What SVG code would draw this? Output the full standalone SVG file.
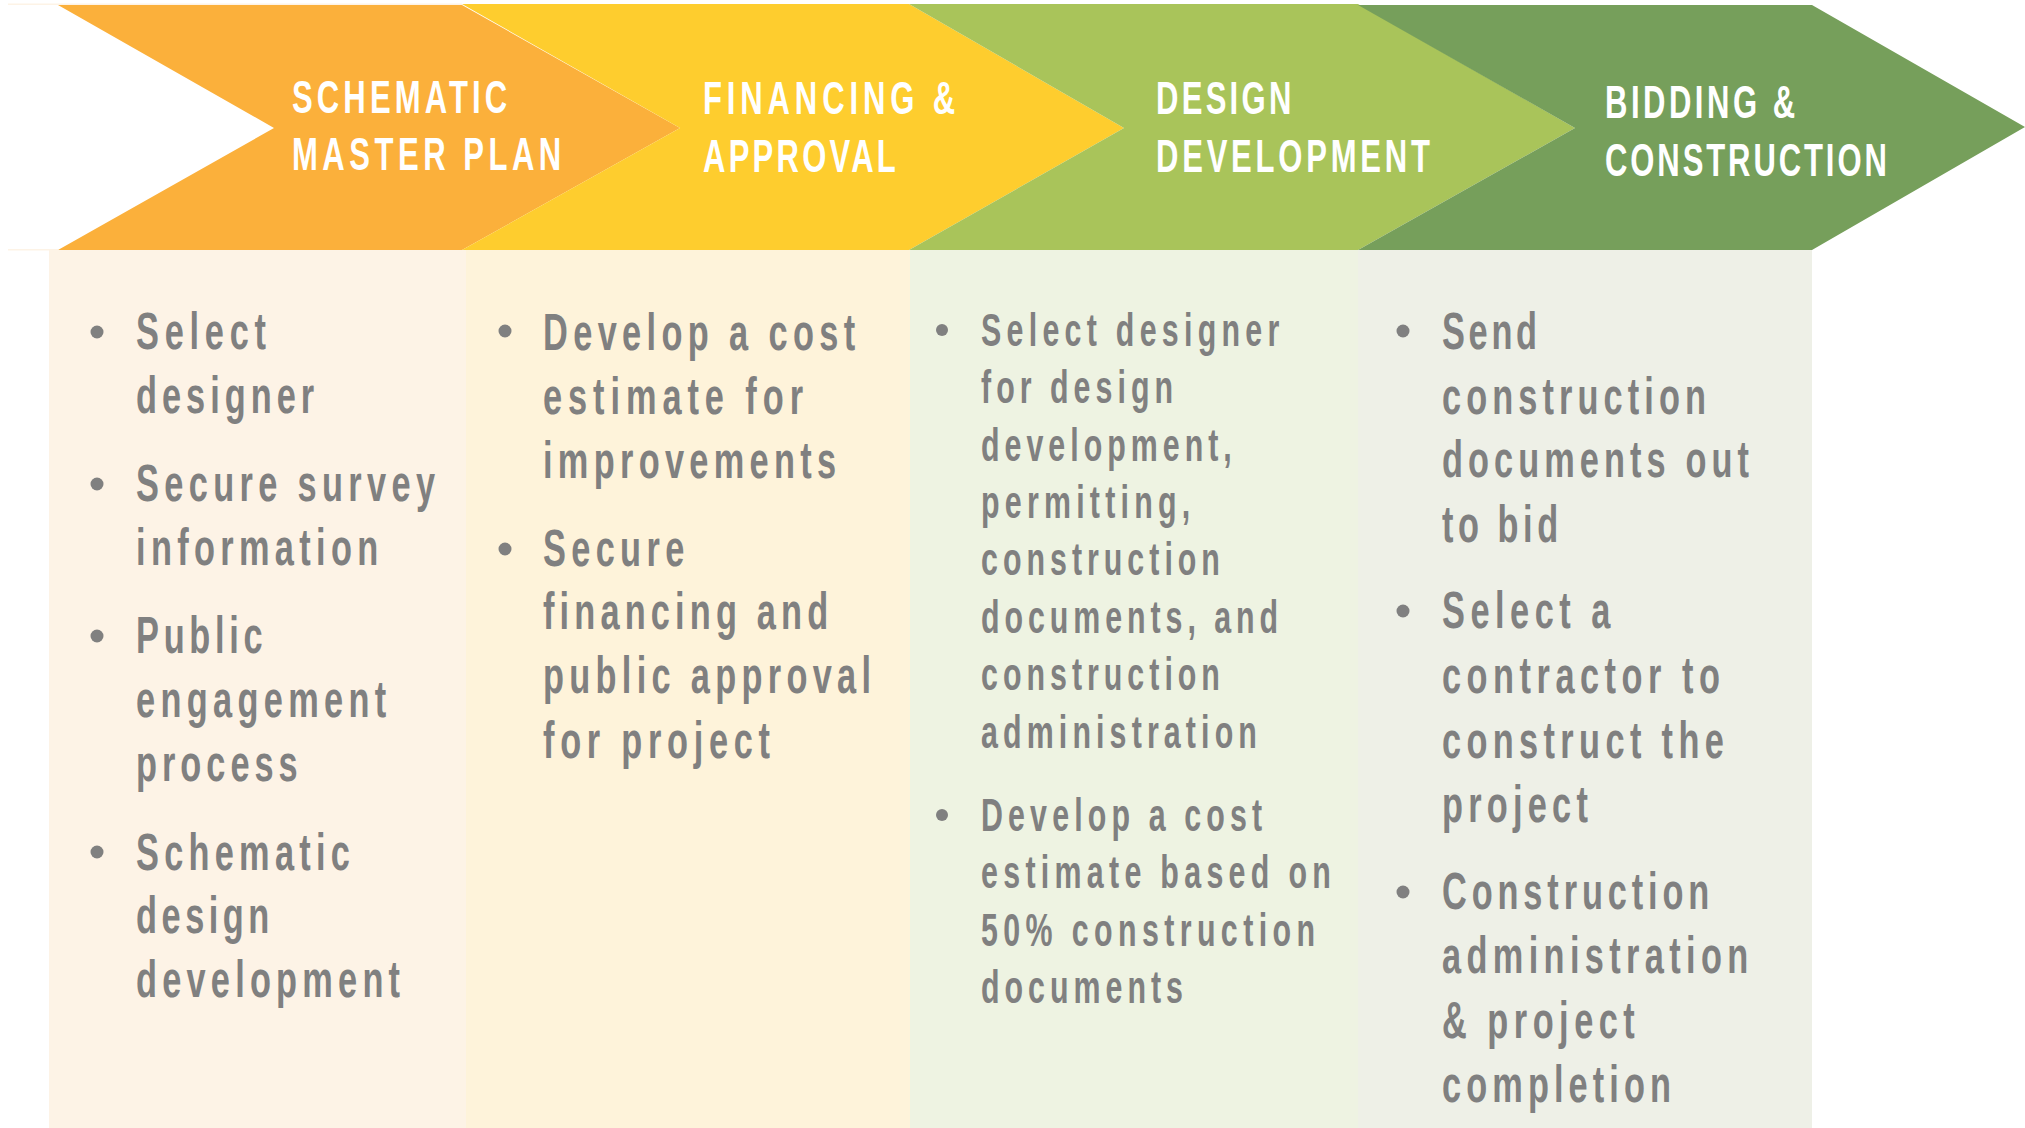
<svg xmlns="http://www.w3.org/2000/svg" width="2025" height="1128" viewBox="0 0 2025 1128">
<style>
text{font-family:"Liberation Sans",Arial,"DejaVu Sans",sans-serif;font-weight:bold;}
.hd{font-size:47px;fill:#ffffff;}
.bd{font-size:52px;fill:#808080;}
.sm{font-size:46px;fill:#808080;}
.bl{fill:#808080;}
</style>
<rect x="0" y="0" width="2025" height="1128" fill="#ffffff"/>
<rect x="8" y="3.5" width="454" height="1.5" fill="#FDF3E6"/>
<rect x="8" y="249" width="50" height="1.5" fill="#FDF3E6"/>

<g id="stage1">
  <rect x="49" y="250" width="417" height="878" fill="#FDF3E6"/>
  <polygon points="58,5 462,5 680,128 462,250 58,250 274,128" fill="#FBB03B"/>
  <g transform="translate(292,0) scale(0.66,1)">
    <text class="hd" x="0" y="113" textLength="326" lengthAdjust="spacing">SCHEMATIC</text>
    <text class="hd" x="0" y="170" textLength="408" lengthAdjust="spacing">MASTER PLAN</text>
  </g>
  <circle class="bl" cx="97" cy="332" r="6.5"/>
  <circle class="bl" cx="97" cy="484" r="6.5"/>
  <circle class="bl" cx="97" cy="636" r="6.5"/>
  <circle class="bl" cx="97" cy="852" r="6.5"/>
  <g transform="translate(136,0) scale(0.66,1)">
    <text class="bd" x="0" y="349" textLength="197" lengthAdjust="spacing">Select</text>
    <text class="bd" x="0" y="413" textLength="270" lengthAdjust="spacing">designer</text>
    <text class="bd" x="0" y="501" textLength="453" lengthAdjust="spacing">Secure survey</text>
    <text class="bd" x="0" y="565" textLength="367" lengthAdjust="spacing">information</text>
    <text class="bd" x="0" y="653" textLength="192" lengthAdjust="spacing">Public</text>
    <text class="bd" x="0" y="717" textLength="379" lengthAdjust="spacing">engagement</text>
    <text class="bd" x="0" y="781" textLength="245" lengthAdjust="spacing">process</text>
    <text class="bd" x="0" y="870" textLength="324" lengthAdjust="spacing">Schematic</text>
    <text class="bd" x="0" y="933" textLength="202" lengthAdjust="spacing">design</text>
    <text class="bd" x="0" y="997" textLength="400" lengthAdjust="spacing">development</text>
  </g>
</g>

<g id="stage2">
  <rect x="466" y="250" width="444" height="878" fill="#FEF3DA"/>
  <polygon points="462,4 909,4 1124,128 909,250 462,250 680,128" fill="#FECD2E"/>
  <g transform="translate(703,0) scale(0.66,1)">
    <text class="hd" x="0" y="114" textLength="382" lengthAdjust="spacing">FINANCING &amp;</text>
    <text class="hd" x="0" y="172" textLength="292" lengthAdjust="spacing">APPROVAL</text>
  </g>
  <circle class="bl" cx="505" cy="331" r="6.5"/>
  <circle class="bl" cx="505" cy="549" r="6.5"/>
  <g transform="translate(543,0) scale(0.66,1)">
    <text class="bd" x="0" y="350" textLength="473" lengthAdjust="spacing">Develop a cost</text>
    <text class="bd" x="0" y="414" textLength="394" lengthAdjust="spacing">estimate for</text>
    <text class="bd" x="0" y="478" textLength="444" lengthAdjust="spacing">improvements</text>
    <text class="bd" x="0" y="566" textLength="214" lengthAdjust="spacing">Secure</text>
    <text class="bd" x="0" y="629" textLength="432" lengthAdjust="spacing">financing and</text>
    <text class="bd" x="0" y="693" textLength="497" lengthAdjust="spacing">public approval</text>
    <text class="bd" x="0" y="758" textLength="344" lengthAdjust="spacing">for project</text>
  </g>
</g>

<g id="stage3">
  <rect x="910" y="250" width="448" height="878" fill="#EEF3E2"/>
  <polygon points="909,4 1358,4 1575,128 1358,250 909,250 1124,128" fill="#A9C45A"/>
  <g transform="translate(1156,0) scale(0.66,1)">
    <text class="hd" x="0" y="114" textLength="205" lengthAdjust="spacing">DESIGN</text>
    <text class="hd" x="0" y="172" textLength="415" lengthAdjust="spacing">DEVELOPMENT</text>
  </g>
  <circle class="bl" cx="942" cy="330" r="6"/>
  <circle class="bl" cx="942" cy="815" r="6"/>
  <g transform="translate(981,0) scale(0.66,1)">
    <text class="sm" x="0" y="346" textLength="452" lengthAdjust="spacing">Select designer</text>
    <text class="sm" x="0" y="403" textLength="291" lengthAdjust="spacing">for design</text>
    <text class="sm" x="0" y="461" textLength="380" lengthAdjust="spacing">development,</text>
    <text class="sm" x="0" y="518" textLength="317" lengthAdjust="spacing">permitting,</text>
    <text class="sm" x="0" y="575" textLength="362" lengthAdjust="spacing">construction</text>
    <text class="sm" x="0" y="633" textLength="450" lengthAdjust="spacing">documents, and</text>
    <text class="sm" x="0" y="690" textLength="362" lengthAdjust="spacing">construction</text>
    <text class="sm" x="0" y="748" textLength="418" lengthAdjust="spacing">administration</text>
    <text class="sm" x="0" y="831" textLength="426" lengthAdjust="spacing">Develop a cost</text>
    <text class="sm" x="0" y="888" textLength="530" lengthAdjust="spacing">estimate based on</text>
    <text class="sm" x="0" y="946" textLength="506" lengthAdjust="spacing">50% construction</text>
    <text class="sm" x="0" y="1003" textLength="306" lengthAdjust="spacing">documents</text>
  </g>
</g>

<g id="stage4">
  <rect x="1358" y="250" width="454" height="878" fill="#EEF0E7"/>
  <polygon points="1358,5 1812,5 2025,127 1812,250 1358,250 1575,128" fill="#769F5B"/>
  <g transform="translate(1605,0) scale(0.66,1)">
    <text class="hd" x="0" y="118" textLength="288" lengthAdjust="spacing">BIDDING &amp;</text>
    <text class="hd" x="0" y="176" textLength="427" lengthAdjust="spacing">CONSTRUCTION</text>
  </g>
  <circle class="bl" cx="1403" cy="331" r="6.5"/>
  <circle class="bl" cx="1403" cy="611" r="6.5"/>
  <circle class="bl" cx="1403" cy="892" r="6.5"/>
  <g transform="translate(1442,0) scale(0.66,1)">
    <text class="bd" x="0" y="349" textLength="144" lengthAdjust="spacing">Send</text>
    <text class="bd" x="0" y="414" textLength="400" lengthAdjust="spacing">construction</text>
    <text class="bd" x="0" y="477" textLength="465" lengthAdjust="spacing">documents out</text>
    <text class="bd" x="0" y="542" textLength="176" lengthAdjust="spacing">to bid</text>
    <text class="bd" x="0" y="628" textLength="255" lengthAdjust="spacing">Select a</text>
    <text class="bd" x="0" y="693" textLength="421" lengthAdjust="spacing">contractor to</text>
    <text class="bd" x="0" y="758" textLength="427" lengthAdjust="spacing">construct the</text>
    <text class="bd" x="0" y="822" textLength="221" lengthAdjust="spacing">project</text>
    <text class="bd" x="0" y="909" textLength="405" lengthAdjust="spacing">Construction</text>
    <text class="bd" x="0" y="973" textLength="464" lengthAdjust="spacing">administration</text>
    <text class="bd" x="0" y="1038" textLength="292" lengthAdjust="spacing">&amp; project</text>
    <text class="bd" x="0" y="1102" textLength="347" lengthAdjust="spacing">completion</text>
  </g>
</g>
</svg>
